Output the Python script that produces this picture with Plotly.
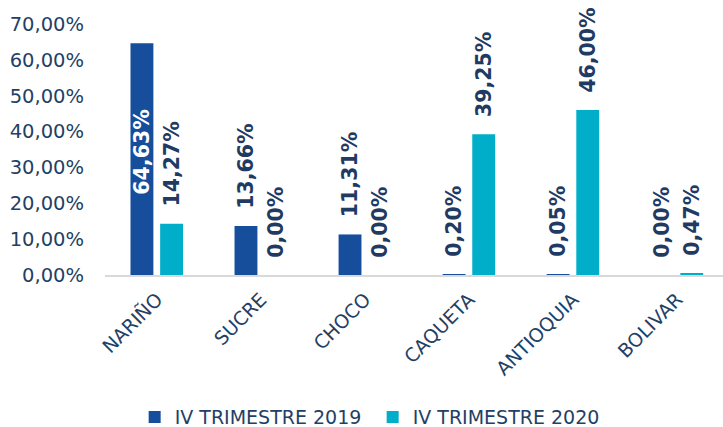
import plotly.graph_objects as go

categories = ["NARIÑO", "SUCRE", "CHOCO", "CAQUETA", "ANTIOQUIA", "BOLIVAR"]
series_2019 = [64.63, 13.66, 11.31, 0.20, 0.05, 0.00]
series_2020 = [14.27, 0.00, 0.00, 39.25, 46.00, 0.47]
series_names = ["IV TRIMESTRE 2019", "IV TRIMESTRE 2020"]
y_ticks = [0, 10, 20, 30, 40, 50, 60, 70]

BLUE = "#174E9C"
TEAL = "#00AECA"
TXT = "#243F66"
LBL = "#1F3A63"
FONT = "DejaVu Sans"
PAD = "\u00a0\u00a0"


def fmt(v):
    return f"{v:.2f}".replace(".", ",") + "%"


fig = go.Figure()

pos19 = ["inside" if v > 30 else "outside" for v in series_2019]
col19 = ["white" if p == "inside" else LBL for p in pos19]
fig.add_trace(go.Bar(
    x=categories, y=series_2019, name=series_names[0],
    marker=dict(color=BLUE, line=dict(width=0)),
    width=0.22, offset=-0.255,
    text=[PAD + fmt(v) for v in series_2019], textposition=pos19,
    insidetextanchor="middle",
    textangle=-90, constraintext="none", cliponaxis=False,
    textfont=dict(family=FONT, size=20.5, color=col19, weight="bold"),
))
fig.add_trace(go.Bar(
    x=categories, y=series_2020, name=series_names[1],
    marker=dict(color=TEAL, line=dict(width=0)),
    width=0.22, offset=0.03,
    text=[PAD + fmt(v) for v in series_2020], textposition="outside",
    textangle=-90, constraintext="none", cliponaxis=False,
    textfont=dict(family=FONT, size=20.5, color=LBL, weight="bold"),
))

fig.update_layout(
    width=723, height=427,
    margin=dict(l=105, r=0, t=24, b=152, autoexpand=False),
    paper_bgcolor="white", plot_bgcolor="white",
    font=dict(family=FONT, color=TXT, size=18),
    barmode="group",
    showlegend=True,
    legend=dict(orientation="h", x=0.048, xanchor="left", y=-0.566, yanchor="middle",
                entrywidth=193, entrywidthmode="pixels",
                font=dict(family=FONT, size=19, color=TXT), itemclick=False),
    xaxis=dict(range=[-0.5, 5.44], tickangle=-45, showgrid=False, automargin=False,
               showline=True, linecolor="#D9D9D9", linewidth=2,
               ticklabelshift=0, ticklabelstandoff=4,
               ticks="", tickfont=dict(family=FONT, size=19, color=TXT)),
    yaxis=dict(range=[0, 70], tickvals=y_ticks, ticktext=[fmt(v) for v in y_ticks],
               showgrid=False, zeroline=False, showline=False, ticks="",
               automargin=False, ticklabelstandoff=20,
               tickfont=dict(family=FONT, size=19.5, color=TXT)),
)

fig.write_html("out.html", config={"displayModeBar": False},
               post_script="document.body.style.margin='0';")
